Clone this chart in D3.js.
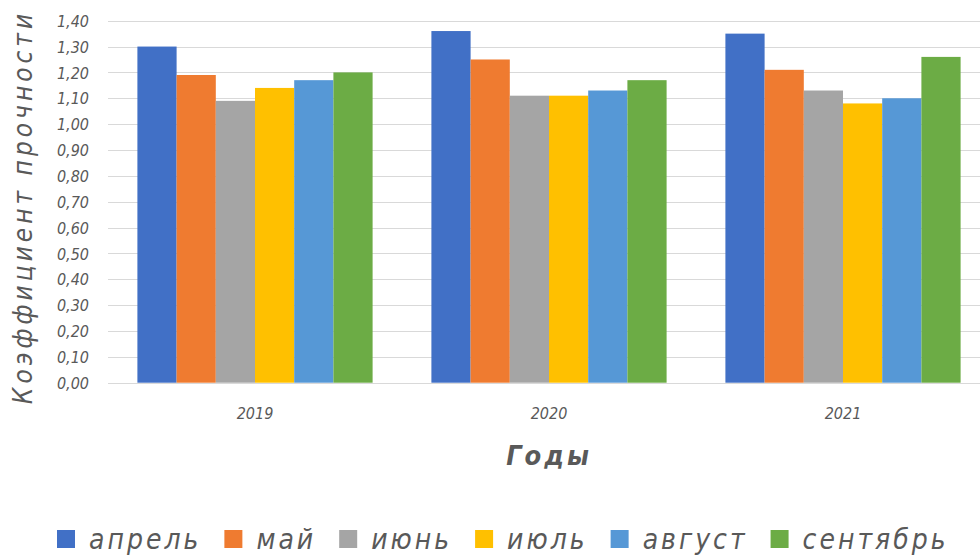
<!DOCTYPE html>
<html lang="ru">
<head>
<meta charset="utf-8">
<script src="https://cdn.jsdelivr.net/npm/d3@7"></script>
<style>
  html, body { margin: 0; padding: 0; background: #fff; overflow: hidden; }
  svg { display: block; }
  .lbl { font-family: "DejaVu Sans Condensed", "DejaVu Sans", sans-serif; font-stretch: condensed; font-style: italic; fill: #595959; }
</style>
</head>
<body>
<svg id="chart" width="980" height="557"></svg>
<script>
// Years on the category axis
const years = ["2019", "2020", "2021"];
// Months shown as series
const months = ["апрель", "май", "июнь", "июль", "август", "сентябрь"];
// Strength coefficient per month, one array per year
const values2019 = [1.30, 1.19, 1.09, 1.14, 1.17, 1.20];
const values2020 = [1.36, 1.25, 1.11, 1.11, 1.13, 1.17];
const values2021 = [1.35, 1.21, 1.13, 1.08, 1.10, 1.26];
// Y axis ticks
const yTicks = [0, 0.1, 0.2, 0.3, 0.4, 0.5, 0.6, 0.7, 0.8, 0.9, 1.0, 1.1, 1.2, 1.3, 1.4];
const colors = ["#4170C6", "#EF7B30", "#A5A5A5", "#FFC000", "#5698D6", "#6CAC45"];

const yearValues = [values2019, values2020, values2021];
const data = years.map((y, i) => ({ year: y, values: months.map((m, j) => ({ month: m, value: yearValues[i][j] })) }));

const svg = d3.select("#chart");
const margin = { left: 108, right: 990, top: 20.7, bottom: 382.7 };

const x0 = d3.scaleBand().domain(years).range([margin.left, margin.right]).paddingInner(0.2).paddingOuter(0.1);
const x1 = d3.scaleBand().domain(months).range([0, x0.bandwidth()]).padding(0);
const y = d3.scaleLinear().domain([0, 1.4]).range([margin.bottom, margin.top]);
const color = d3.scaleOrdinal().domain(months).range(colors);

// Horizontal gridlines
svg.append("g")
  .selectAll("line")
  .data(yTicks)
  .join("line")
  .attr("x1", margin.left)
  .attr("x2", 980)
  .attr("y1", d => Math.round(y(d)) + 0.5)
  .attr("y2", d => Math.round(y(d)) + 0.5)
  .attr("stroke", "#d9d9d9")
  .attr("stroke-width", 1);

// Y tick labels
const fmt = d => d3.format(".2f")(d).replace(".", ",");
const yAxis = d3.axisLeft(y).tickValues(yTicks).tickFormat(fmt).tickSize(0).tickPadding(0);
const yg = svg.append("g").attr("transform", "translate(89,0)").call(yAxis);
yg.select(".domain").remove();
yg.selectAll("text").attr("class", "lbl").attr("font-size", 16).attr("dy", "0.35em");

// Bars
const groups = svg.append("g")
  .selectAll("g")
  .data(data)
  .join("g")
  .attr("transform", d => `translate(${x0(d.year)},0)`);
groups.selectAll("rect")
  .data(d => d.values)
  .join("rect")
  .attr("x", d => x1(d.month))
  .attr("width", x1.bandwidth())
  .attr("y", d => y(d.value))
  .attr("height", d => y(0) - y(d.value))
  .attr("fill", d => color(d.month));

// X tick labels
const xAxis = d3.axisBottom(x0).tickSize(0).tickPadding(0);
const xg = svg.append("g").attr("transform", "translate(0,413)").call(xAxis);
xg.select(".domain").remove();
xg.selectAll("text").attr("class", "lbl").attr("font-size", 16).attr("dy", "0.35em");

// Axis titles
svg.append("text")
  .attr("class", "lbl")
  .attr("transform", "translate(32,207) rotate(-90)")
  .attr("text-anchor", "middle")
  .attr("font-size", 26)
  .attr("letter-spacing", 4)
  .text("Коэффициент прочности");

svg.append("text")
  .attr("class", "lbl")
  .attr("x", (x0("2020") + x0.bandwidth() / 2))
  .attr("y", 465)
  .attr("text-anchor", "middle")
  .attr("font-size", 27)
  .attr("font-weight", "bold")
  .attr("letter-spacing", 3)
  .text("Годы");

// Legend
const legend = svg.append("g").attr("transform", "translate(57,539)");
let lx = 0;
months.forEach(m => {
  const item = legend.append("g").attr("transform", `translate(${lx},0)`);
  item.append("rect").attr("x", 0).attr("y", -9).attr("width", 18).attr("height", 18).attr("fill", color(m));
  const t = item.append("text")
    .attr("class", "lbl")
    .attr("x", 32)
    .attr("y", 0)
    .attr("dy", "0.35em")
    .attr("font-size", 28)
    .attr("letter-spacing", 3)
    .text(m);
  lx += 32 + t.node().getComputedTextLength() + 23;
});
</script>
</body>
</html>
